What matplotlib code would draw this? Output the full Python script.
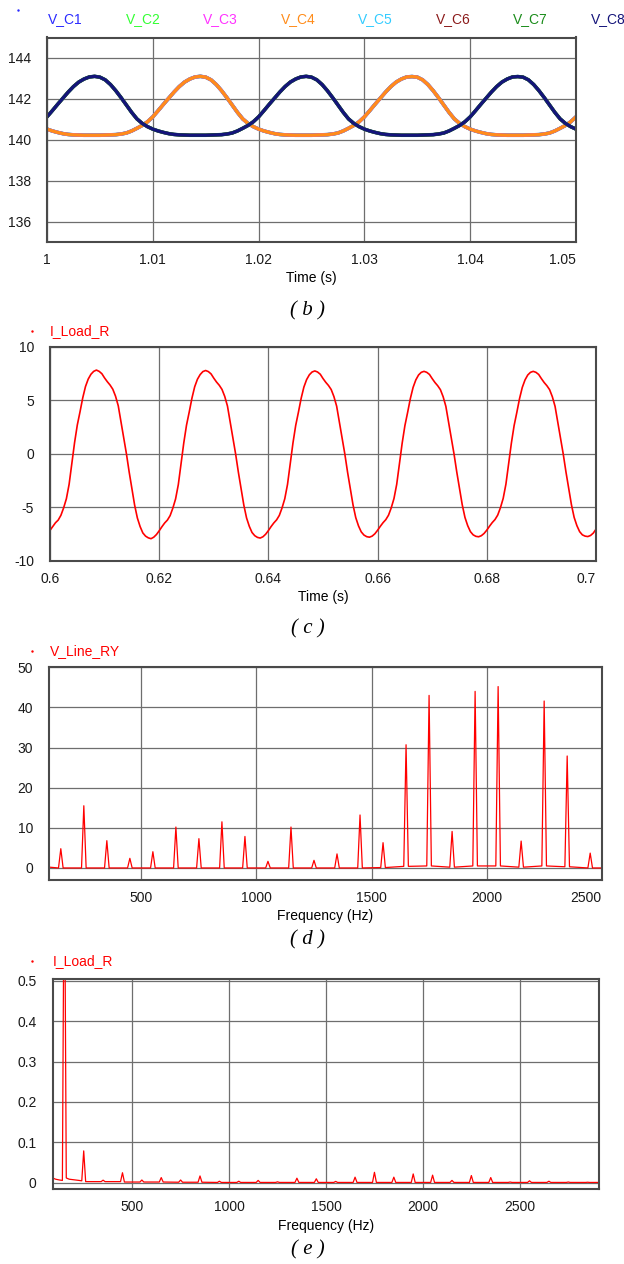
import matplotlib
matplotlib.use("Agg")
import matplotlib.pyplot as plt
from matplotlib.lines import Line2D
import numpy as np

plt.rcParams['font.family'] = ['Liberation Sans', 'DejaVu Sans']
plt.rcParams['axes.unicode_minus'] = False

# ---- (b) capacitor voltages, sampled every 0.5 ms from 1.000 s to 1.050 s ----
vc_names = ["V_C1", "V_C2", "V_C3", "V_C4", "V_C5", "V_C6", "V_C7", "V_C8"]
vc_colors = ["#2a2aff", "#33ff33", "#ff33ff", "#ff8c1a", "#33ccff", "#8b1a1a", "#1a8c1a", "#14147a"]
vc_time = np.linspace(1.0, 1.05, 101)
# upper-arm capacitors (V_C1..V_C4)
vc_upper = [
    140.52, 140.43, 140.36, 140.30, 140.26, 140.24, 140.23, 140.22, 140.22,
    140.22, 140.22, 140.23, 140.24, 140.25, 140.28, 140.33, 140.43, 140.56, 140.70,
    140.88, 141.12, 141.42, 141.73, 142.03, 142.33, 142.60, 142.82, 142.97, 143.07,
    143.10, 143.06, 142.93, 142.70, 142.40, 142.06, 141.70, 141.34, 141.02, 140.80,
    140.64, 140.52, 140.43, 140.36, 140.30, 140.26, 140.24, 140.23, 140.22, 140.22,
    140.22, 140.22, 140.23, 140.24, 140.25, 140.28, 140.33, 140.43, 140.56, 140.70,
    140.88, 141.12, 141.42, 141.73, 142.03, 142.33, 142.60, 142.82, 142.97, 143.07,
    143.09, 143.06, 142.93, 142.70, 142.40, 142.06, 141.70, 141.34, 141.02, 140.80,
    140.64, 140.52, 140.43, 140.36, 140.30, 140.26, 140.24, 140.23, 140.22, 140.22,
    140.22, 140.22, 140.23, 140.24, 140.25, 140.28, 140.33, 140.43, 140.56, 140.70,
    140.88, 141.12,
]
# lower-arm capacitors (V_C5..V_C8)
vc_lower = [
    141.12, 141.42, 141.73, 142.03, 142.33, 142.60, 142.82, 142.97, 143.07, 143.10,
    143.06, 142.93, 142.70, 142.40, 142.06, 141.70, 141.34, 141.02, 140.80, 140.64,
    140.52, 140.43, 140.36, 140.30, 140.26, 140.24, 140.23, 140.22, 140.22,
    140.22, 140.22, 140.23, 140.24, 140.25, 140.28, 140.33, 140.43, 140.56, 140.70,
    140.88, 141.12, 141.42, 141.73, 142.03, 142.33, 142.60, 142.82, 142.97, 143.07,
    143.10, 143.06, 142.93, 142.70, 142.40, 142.06, 141.70, 141.34, 141.02, 140.80,
    140.64, 140.52, 140.43, 140.36, 140.30, 140.26, 140.24, 140.23, 140.22, 140.22,
    140.22, 140.22, 140.23, 140.24, 140.25, 140.28, 140.33, 140.43, 140.56, 140.70,
    140.88, 141.12, 141.42, 141.73, 142.03, 142.33, 142.60, 142.82, 142.97, 143.07,
    143.09, 143.06, 142.93, 142.70, 142.40, 142.06, 141.70, 141.34, 141.02, 140.80,
    140.64, 140.52,
]

# ---- (c) load current, sampled every 0.5 ms from 0.600 s to 0.700 s ----
il_time = np.linspace(0.6, 0.7, 201)
il_values = [
    -7.16, -6.80, -6.45, -6.20, -5.75, -5.05, -4.20, -2.85, -0.90, 1.05,
    2.70, 3.94, 5.25, 6.30, 7.00, 7.45, 7.72, 7.84, 7.72, 7.50,
    7.10, 6.75, 6.44, 6.05, 5.40, 4.50, 3.00, 1.45, 0.00, -1.70,
    -3.25, -4.80, -6.00, -6.80, -7.40, -7.70, -7.86, -7.94, -7.80, -7.55,
    -7.20, -6.82, -6.47, -6.20, -5.78, -5.08, -4.22, -2.88, -0.92, 1.02,
    2.68, 3.92, 5.22, 6.28, 6.98, 7.42, 7.70, 7.80, 7.70, 7.48,
    7.08, 6.72, 6.42, 6.03, 5.38, 4.48, 2.98, 1.42, -0.02, -1.72,
    -3.27, -4.80, -6.00, -6.78, -7.36, -7.66, -7.82, -7.88, -7.76, -7.52,
    -7.18, -6.80, -6.46, -6.18, -5.76, -5.06, -4.20, -2.86, -0.92, 1.02,
    2.66, 3.90, 5.20, 6.25, 6.95, 7.40, 7.66, 7.76, 7.66, 7.45,
    7.05, 6.70, 6.40, 6.02, 5.36, 4.46, 2.96, 1.40, -0.02, -1.72,
    -3.26, -4.78, -5.97, -6.74, -7.30, -7.60, -7.75, -7.80, -7.70, -7.48,
    -7.15, -6.78, -6.44, -6.16, -5.74, -5.05, -4.18, -2.85, -0.92, 1.00,
    2.64, 3.88, 5.18, 6.22, 6.92, 7.38, 7.63, 7.72, 7.63, 7.43,
    7.04, 6.68, 6.38, 6.01, 5.35, 4.45, 2.95, 1.40, -0.02, -1.70,
    -3.24, -4.76, -5.95, -6.72, -7.28, -7.58, -7.72, -7.76, -7.66, -7.45,
    -7.14, -6.77, -6.43, -6.15, -5.73, -5.04, -4.17, -2.84, -0.91, 1.00,
    2.64, 3.88, 5.18, 6.22, 6.92, 7.38, 7.63, 7.72, 7.63, 7.43,
    7.04, 6.68, 6.38, 6.01, 5.35, 4.45, 2.95, 1.40, -0.02, -1.70,
    -3.24, -4.76, -5.95, -6.72, -7.28, -7.58, -7.70, -7.74, -7.64, -7.42,
    -7.05,
]

# ---- (d) V_Line_RY spectrum ----
vl_freq = [150, 250, 350, 450, 550, 650, 750, 850, 950, 1050, 1150, 1250,
           1350, 1450, 1550, 1650, 1750, 1850, 1950, 2050, 2150, 2250, 2350, 2450]
vl_amp = [4.8, 15.5, 6.8, 2.4, 4.05, 10.2, 7.3, 11.5, 7.85, 1.65, 10.2, 1.9,
          3.5, 13.2, 6.3, 30.7, 43.0, 9.1, 44.0, 45.2, 6.7, 41.6, 27.9, 3.7]
vl_foot = [0, 0, 0, 0, 0, 0, 0, 0, 0, 0, 0, 0,
           0, 0, 0.1, 0.4, 0.5, 0.2, 0.5, 0.5, 0.2, 0.5, 0.3, 0]
vl_base_f = [100, 2500]
vl_base_v = [0.2, 0.0]

# ---- (e) I_Load_R spectrum (150 Hz component runs off the top of the scale) ----
ih_freq = [150, 250, 350, 450, 550, 650, 750, 850, 950, 1050, 1150, 1250, 1350, 1450,
           1550, 1650, 1750, 1850, 1950, 2050, 2150, 2250, 2350, 2450, 2550, 2650, 2750, 2850]
ih_amp = [0.9, 0.079, 0.0066, 0.025, 0.007, 0.013, 0.007, 0.017, 0.004, 0.004, 0.006, 0.0025,
          0.0115, 0.010, 0.0035, 0.014, 0.026, 0.014, 0.022, 0.019, 0.006, 0.018, 0.013,
          0.002, 0.005, 0.004, 0.002, 0.0015]
ih_foot_l = [0.006, 0.005, 0.003, 0.003, 0.002, 0.002, 0.0015, 0.0015] + [0.001] * 20
ih_foot_r = [0.012, 0.003, 0.003, 0.002, 0.002, 0.002, 0.0015, 0.0015] + [0.001] * 20
ih_base_f = [90, 105, 125, 175, 200, 225, 2905]
ih_base_v = [0.012, 0.009, 0.007, 0.009, 0.0075, 0.006, 0.001]


def spectrum_trace(freqs, amps, foot_l, foot_r, base_f, base_v, half=10):
    pts = list(zip(base_f, base_v))
    for f, a, l, r in zip(freqs, amps, foot_l, foot_r):
        pts += [(f - half, l), (f, a), (f + half, r)]
    pts.sort()
    return [p[0] for p in pts], [p[1] for p in pts]


W, H = 624, 1264
fig = plt.figure(figsize=(W / 100, H / 100), dpi=100)


def box(x0, y0, x1, y1):
    # pixel box (top-left origin) -> figure fraction rect
    return [x0 / W, 1 - y1 / H, (x1 - x0) / W, (y1 - y0) / H]


def style(ax):
    ax.grid(True, color="#6e6e6e", lw=0.9)
    ax.set_axisbelow(True)
    for s in ax.spines.values():
        s.set_color("#4a4a4a")
        s.set_linewidth(1.5)
    ax.tick_params(axis="both", length=0, labelsize=10, colors="#1a1a1a")
    ax.tick_params(axis="x", pad=8)
    ax.tick_params(axis="y", pad=11.5)


def ftext(x, y, s, **kw):
    fig.text(x / W, 1 - y / H, s, **kw)


def dot(x, y, color):
    fig.add_artist(Line2D([x / W], [1 - y / H], marker="s", markersize=0.7,
                          color=color, lw=0, transform=fig.transFigure))


def caption(y, s):
    ftext(308, y, s, ha="center", va="center", fontsize=15, style="italic",
          family=["Liberation Serif", "DejaVu Serif"])


# (b)
axb = fig.add_axes(box(47, 37.5, 576, 242))
for i, (name, col) in enumerate(zip(vc_names, vc_colors)):
    data = vc_upper if i < 4 else vc_lower
    axb.plot(vc_time, data, color=col, lw=2.6 - 0.1 * (i % 4), solid_capstyle="round")
    ftext(48 + 77.5 * i, 19, name, color=col, fontsize=10, va="center", ha="left")
dot(18, 10, "#2a2aff")
axb.set_xlim(1.0, 1.05)
axb.set_ylim(135, 145)
axb.set_yticks([136, 138, 140, 142, 144])
axb.set_xticks([1.0, 1.01, 1.02, 1.03, 1.04, 1.05],
               ["1", "1.01", "1.02", "1.03", "1.04", "1.05"])
style(axb)
axb.get_xticklabels()[-1].set_horizontalalignment("right")
axb.set_xlabel("Time (s)", fontsize=10, labelpad=3)
caption(311, "( b )")

# (c)
axc = fig.add_axes(box(50, 347, 596, 560.7))
axc.plot(il_time, il_values, color="#ff0000", lw=1.2)
axc.set_xlim(0.6, 0.7)
axc.set_ylim(-10, 10)
axc.set_yticks([-10, -5, 0, 5, 10])
axc.set_xticks([0.6, 0.62, 0.64, 0.66, 0.68, 0.7],
               ["0.6", "0.62", "0.64", "0.66", "0.68", "0.7"])
style(axc)
axc.get_xticklabels()[-1].set_horizontalalignment("right")
axc.set_xlabel("Time (s)", fontsize=10, labelpad=3)
ftext(50, 331, "I_Load_R", color="#ff0000", fontsize=10, va="center")
dot(32, 331, "#ff0000")
caption(629, "( c )")

# (d)
axd = fig.add_axes(box(49.3, 667.3, 601.7, 880))
fx, fy = spectrum_trace(vl_freq, vl_amp, vl_foot, vl_foot, vl_base_f, vl_base_v)
axd.plot(fx, fy, color="#ff0000", lw=0.9)
axd.set_xlim(100, 2500)
axd.set_ylim(-3, 50)
axd.set_yticks([0, 10, 20, 30, 40, 50])
axd.set_xticks([500, 1000, 1500, 2000, 2500])
style(axd)
axd.get_xticklabels()[-1].set_horizontalalignment("right")
axd.set_xlabel("Frequency (Hz)", fontsize=10, labelpad=3)
ftext(50, 651, "V_Line_RY", color="#ff0000", fontsize=10, va="center")
dot(32, 651, "#ff0000")
caption(940, "( d )")

# (e)
axe = fig.add_axes(box(52.7, 979.3, 598.7, 1189.3))
fx, fy = spectrum_trace(ih_freq, ih_amp, ih_foot_l, ih_foot_r, ih_base_f, ih_base_v)
axe.plot(fx, fy, color="#ff0000", lw=0.9)
axe.set_xlim(90, 2907)
axe.set_ylim(-0.016, 0.5035)
axe.set_yticks([0, 0.1, 0.2, 0.3, 0.4, 0.5], ["0", "0.1", "0.2", "0.3", "0.4", "0.5"])
axe.set_xticks([500, 1000, 1500, 2000, 2500])
style(axe)
axe.set_xlabel("Frequency (Hz)", fontsize=10, labelpad=3)
ftext(53, 961, "I_Load_R", color="#ff0000", fontsize=10, va="center")
dot(32, 961, "#ff0000")
caption(1250, "( e )")

fig.savefig("out.png", dpi=100, facecolor="white")
plt.close(fig)
